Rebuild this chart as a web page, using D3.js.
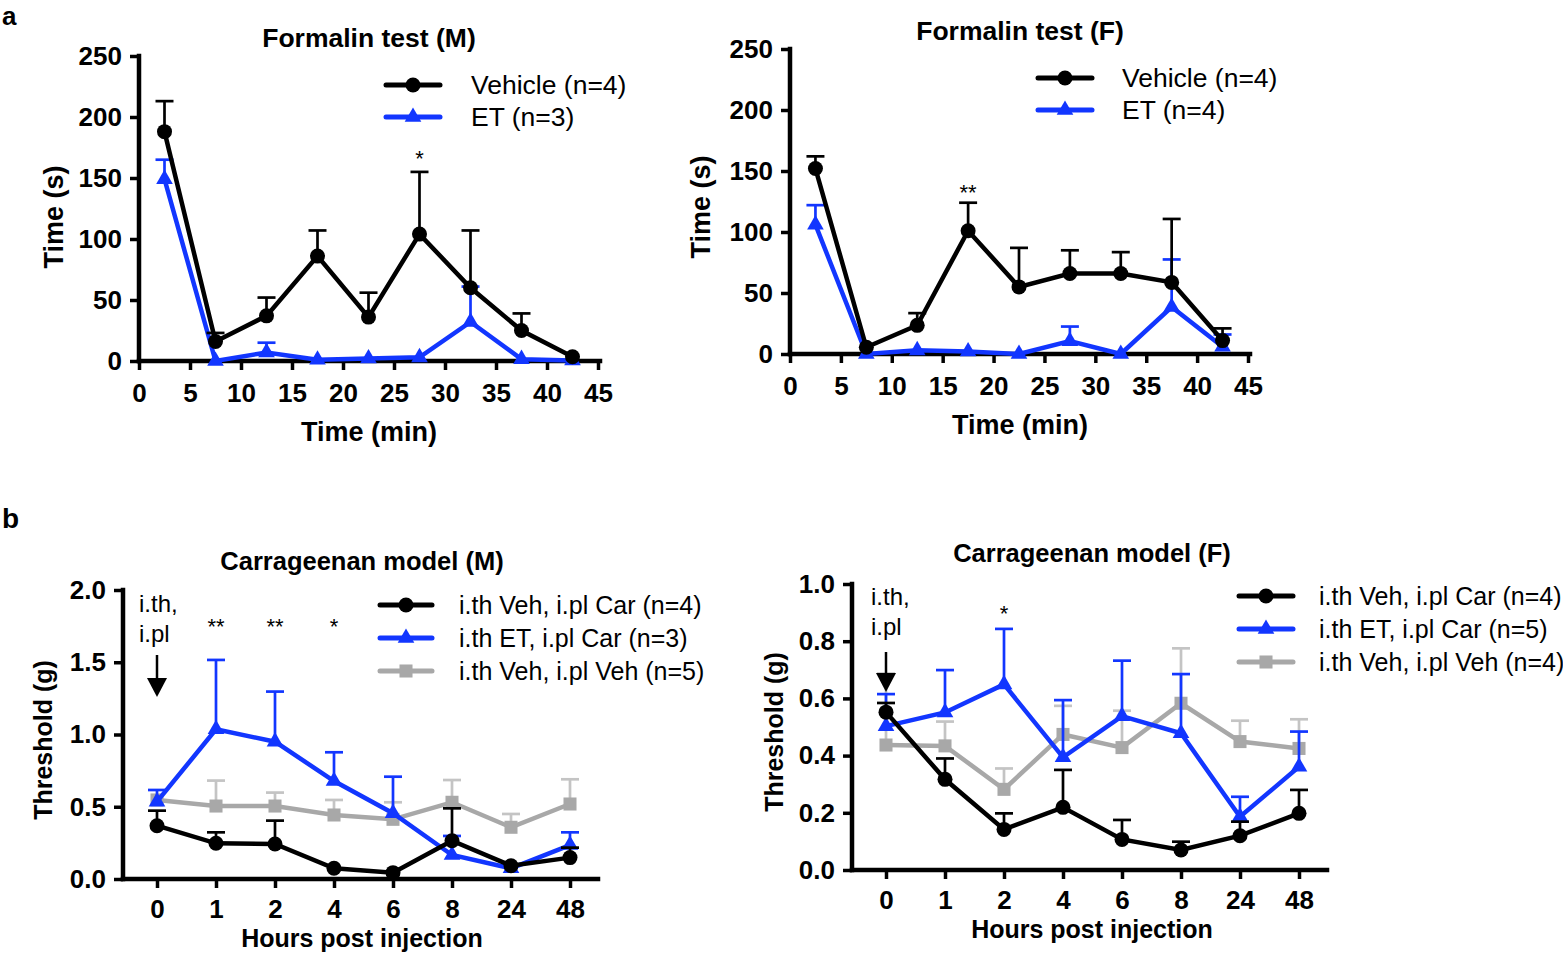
<!DOCTYPE html>
<html>
<head>
<meta charset="utf-8">
<script src="https://cdn.jsdelivr.net/npm/d3@7"></script>
<style>
  body { margin: 0; background: #fff; }
  svg { display: block; font-family: "Liberation Sans", Arial, sans-serif; }
</style>
</head>
<body>
<script>
// ---------------- DATA ----------------
const timeMin = [2.5, 7.5, 12.5, 17.5, 22.5, 27.5, 32.5, 37.5, 42.5];
const formalinTicksX = [0, 5, 10, 15, 20, 25, 30, 35, 40, 45];
const formalinTicksY = [0, 50, 100, 150, 200, 250];

const formM_vehicle = [188, 16, 37, 86, 36, 104, 60, 25, 3.5];
const formM_vehicleSem = [25, 7, 15, 21, 20, 51, 47, 14, 0];
const formM_et = [149, 0, 7, 1, 2, 3, 32, 1.5, 0.5];
const formM_etSem = [16, 0, 8, 0, 0, 0, 29, 0, 0];

const formF_vehicle = [152, 5.5, 23.5, 101, 55, 66, 66, 58.7, 11];
const formF_vehicleSem = [10, 0, 10, 23, 32, 19, 17.5, 52, 10];
const formF_et = [106, 0, 3, 2, 0, 10.5, 0, 38.5, 6];
const formF_etSem = [16, 0, 0, 0, 0, 12, 0, 39, 10];

const hours = ["0", "1", "2", "4", "6", "8", "24", "48"];
const carM_ticksY = [0, 0.5, 1.0, 1.5, 2.0];
const carF_ticksY = [0, 0.2, 0.4, 0.6, 0.8, 1.0];

const carM_vehCar = [0.369, 0.247, 0.242, 0.074, 0.044, 0.265, 0.092, 0.148];
const carM_vehCarSem = [0.104, 0.076, 0.162, 0, 0, 0.224, 0, 0.069];
const carM_etCar = [0.535, 1.036, 0.950, 0.678, 0.455, 0.166, 0.074, 0.235];
const carM_etCarSem = [0.081, 0.48, 0.347, 0.199, 0.253, 0.132, 0, 0.088];
const carM_vehVeh = [0.547, 0.505, 0.505, 0.443, 0.413, 0.531, 0.358, 0.519];
const carM_vehVehSem = [0, 0.176, 0.093, 0.104, 0.118, 0.154, 0.092, 0.171];

const carF_vehCar = [0.552, 0.317, 0.142, 0.219, 0.107, 0.070, 0.120, 0.198];
const carF_vehCarSem = [0.032, 0.073, 0.056, 0.131, 0.068, 0.029, 0.049, 0.082];
const carF_etCar = [0.503, 0.551, 0.649, 0.394, 0.538, 0.478, 0.186, 0.361];
const carF_etCarSem = [0.112, 0.148, 0.194, 0.2, 0.194, 0.207, 0.07, 0.123];
const carF_vehVeh = [0.437, 0.434, 0.282, 0.474, 0.428, 0.583, 0.449, 0.425];
const carF_vehVehSem = [0.25, 0.085, 0.073, 0.1, 0.129, 0.192, 0.073, 0.102];

// ---------------- STYLE ----------------
const BLACK = "#000000", BLUE = "#1236ff", GRAY = "#a8a8a8", GRAY_ERR = "#c4c4c4";
const FONT = '"Liberation Sans", Arial, sans-serif';

const svg = d3.select("body").append("svg").attr("width", 1563).attr("height", 954);

function marker(g, type, color, x, y) {
  if (type === "circle") {
    g.append("circle").attr("cx", x).attr("cy", y).attr("r", 7.5).attr("fill", color);
  } else if (type === "triangle") {
    g.append("path").attr("d", d3.symbol(d3.symbolTriangle, 120)())
      .attr("transform", `translate(${x},${y})`).attr("fill", color);
  } else {
    g.append("path").attr("d", d3.symbol(d3.symbolSquare, 170)())
      .attr("transform", `translate(${x},${y})`).attr("fill", color);
  }
}

function drawSeries(g, xs, vals, sems, xScale, yScale, s) {
  const pts = vals.map((v, i) => ({x: xScale(xs[i]), y: yScale(v), top: yScale(v + sems[i]), sem: sems[i]}));
  const eg = g.append("g");
  pts.forEach(p => {
    if (p.sem > 0) {
      eg.append("line").attr("x1", p.x).attr("x2", p.x).attr("y1", p.y).attr("y2", p.top)
        .attr("stroke", s.errColor).attr("stroke-width", 2.7);
      eg.append("line").attr("x1", p.x - 9).attr("x2", p.x + 9).attr("y1", p.top).attr("y2", p.top)
        .attr("stroke", s.errColor).attr("stroke-width", 2.7);
    }
  });
  g.append("path").datum(pts)
    .attr("d", d3.line().x(d => d.x).y(d => d.y))
    .attr("fill", "none").attr("stroke", s.color).attr("stroke-width", 4.5)
    .attr("stroke-linejoin", "miter");
  pts.forEach(p => marker(g, s.marker, s.color, p.x, p.y));
}

function axes(g, xScale, yScale, xTicks, yTicks, xEnd, yFmt, xPad, ax) {
  const x0 = yScale.range()[0];
  const xA = d3.axisBottom(xScale).tickValues(xTicks).tickSize(9).tickPadding(xPad).tickSizeOuter(0);
  const yA = d3.axisLeft(yScale).tickValues(yTicks).tickSize(9).tickPadding(8).tickSizeOuter(0).tickFormat(yFmt);
  const gx = g.append("g").attr("transform", `translate(0,${x0})`).call(xA);
  const gy = g.append("g").attr("transform", `translate(${ax},0)`).call(yA);
  [gx, gy].forEach(a => {
    a.select(".domain").remove();
    a.selectAll(".tick line").attr("stroke", "#000").attr("stroke-width", 3.5);
    a.selectAll(".tick text").attr("fill", "#000").attr("font-size", 26).attr("font-weight", "bold")
      .attr("font-family", FONT);
  });
  g.append("line").attr("x1", ax).attr("x2", ax).attr("y1", yScale.range()[1]).attr("y2", x0)
    .attr("stroke", "#000").attr("stroke-width", 4.5).attr("stroke-linecap", "square");
  g.append("line").attr("x1", ax).attr("x2", xEnd).attr("y1", x0).attr("y2", x0)
    .attr("stroke", "#000").attr("stroke-width", 4.5).attr("stroke-linecap", "square");
}

function text(g, t, x, y, opts = {}) {
  const el = g.append("text").attr("x", x).attr("y", y).text(t)
    .attr("font-family", FONT).attr("font-size", opts.size || 25)
    .attr("font-weight", opts.bold ? "bold" : "normal")
    .attr("text-anchor", opts.anchor || "start").attr("fill", "#000");
  if (opts.rotate) el.attr("transform", `rotate(-90,${x},${y})`);
  return el;
}

function legend(g, items, lx0, lx1, tx, ys, size) {
  items.forEach((it, i) => {
    const y = ys[i];
    g.append("line").attr("x1", lx0).attr("x2", lx1).attr("y1", y).attr("y2", y)
      .attr("stroke", it.color).attr("stroke-width", 5).attr("stroke-linecap", "round");
    marker(g, it.marker, it.color, (lx0 + lx1) / 2, y);
    text(g, it.label, tx, y + 9, {size: size});
  });
}

function arrow(g, x, yTop, yTip) {
  g.append("line").attr("x1", x).attr("x2", x).attr("y1", yTop).attr("y2", yTip - 16)
    .attr("stroke", "#000").attr("stroke-width", 2.5);
  g.append("path").attr("d", `M${x - 10},${yTip - 19} L${x + 10},${yTip - 19} L${x},${yTip} Z`).attr("fill", "#000");
}

// ---------------- PANEL LETTERS ----------------
text(svg, "a", 2, 25, {size: 26, bold: true});
text(svg, "b", 2, 528, {size: 28, bold: true});

// ---------------- FORMALIN PANELS ----------------
function formalinPanel(cfg) {
  const g = svg.append("g");
  const x = d3.scaleLinear().domain([0, 45]).range([cfg.ax, cfg.x45]);
  const y = d3.scaleLinear().domain([0, 250]).range([cfg.y0, cfg.y250]);
  axes(g, x, y, formalinTicksX, formalinTicksY, cfg.xEnd, d3.format("d"), 14, cfg.ax);
  drawSeries(g, timeMin, cfg.et, cfg.etSem, x, y, {color: BLUE, errColor: BLUE, marker: "triangle"});
  drawSeries(g, timeMin, cfg.veh, cfg.vehSem, x, y, {color: BLACK, errColor: BLACK, marker: "circle"});
  text(g, cfg.title, cfg.titleX, cfg.titleY, {bold: true, anchor: "middle", size: 26.5});
  text(g, "Time (min)", cfg.titleX, cfg.xTitleY, {bold: true, anchor: "middle", size: 27});
  text(g, "Time (s)", cfg.yTitleX, cfg.yTitleY, {bold: true, anchor: "middle", size: 27, rotate: true});
  legend(g, [
    {label: "Vehicle (n=4)", color: BLACK, marker: "circle"},
    {label: cfg.etLabel, color: BLUE, marker: "triangle"}
  ], cfg.lx0, cfg.lx1, cfg.tx, cfg.ly, 26.5);
  cfg.stars.forEach(s => text(g, s.t, x(s.x), s.y, {anchor: "middle", size: 22}));
}

formalinPanel({
  ax: 139, x45: 598, xEnd: 600, y0: 361, y250: 56,
  veh: formM_vehicle, vehSem: formM_vehicleSem, et: formM_et, etSem: formM_etSem,
  title: "Formalin test (M)", titleX: 369, titleY: 47, xTitleY: 441, yTitleX: 63, yTitleY: 217,
  etLabel: "ET (n=3)", lx0: 386, lx1: 440, tx: 471, ly: [85, 117],
  stars: [{t: "*", x: 27.5, y: 166}]
});

formalinPanel({
  ax: 790, x45: 1248, xEnd: 1250, y0: 354, y250: 49,
  veh: formF_vehicle, vehSem: formF_vehicleSem, et: formF_et, etSem: formF_etSem,
  title: "Formalin test (F)", titleX: 1020, titleY: 40, xTitleY: 434, yTitleX: 710, yTitleY: 207,
  etLabel: "ET (n=4)", lx0: 1038, lx1: 1092, tx: 1122, ly: [78, 110],
  stars: [{t: "**", x: 17.5, y: 200}]
});

// ---------------- CARRAGEENAN PANELS ----------------
function carPanel(cfg) {
  const g = svg.append("g");
  const x = d3.scalePoint().domain(hours).range([cfg.c0, cfg.c48]);
  const y = d3.scaleLinear().domain([0, cfg.yMax]).range([cfg.y0, cfg.yTop]);
  axes(g, x, y, hours, cfg.yTicks, cfg.xEnd, d3.format(".1f"), 12, cfg.ax);
  drawSeries(g, hours, cfg.vv, cfg.vvSem, x, y, {color: GRAY, errColor: GRAY_ERR, marker: "square"});
  drawSeries(g, hours, cfg.ec, cfg.ecSem, x, y, {color: BLUE, errColor: BLUE, marker: "triangle"});
  drawSeries(g, hours, cfg.vc, cfg.vcSem, x, y, {color: BLACK, errColor: BLACK, marker: "circle"});
  text(g, cfg.title, cfg.titleX, cfg.titleY, {bold: true, anchor: "middle", size: 25.5});
  text(g, "Hours post injection", cfg.titleX, cfg.xTitleY, {bold: true, anchor: "middle", size: 25});
  text(g, "Threshold (g)", cfg.yTitleX, cfg.yTitleY, {bold: true, anchor: "middle", size: 25, rotate: true});
  legend(g, [
    {label: "i.th Veh, i.pl Car (n=4)", color: BLACK, marker: "circle"},
    {label: cfg.etLabel, color: BLUE, marker: "triangle"},
    {label: cfg.vvLabel, color: GRAY, marker: "square"}
  ], cfg.lx0, cfg.lx1, cfg.tx, cfg.ly, 25);
  text(g, "i.th,", cfg.annX, cfg.annY, {size: 24});
  text(g, "i.pl", cfg.annX, cfg.annY + 30, {size: 24});
  arrow(g, x("0"), cfg.arrTop, cfg.arrTip);
  cfg.stars.forEach(s => text(g, s.t, x(s.x), s.y, {anchor: "middle", size: 22}));
}

carPanel({
  ax: 123, c0: 157, c48: 570, xEnd: 598, y0: 879, yTop: 590, yMax: 2.0, yTicks: carM_ticksY,
  vc: carM_vehCar, vcSem: carM_vehCarSem, ec: carM_etCar, ecSem: carM_etCarSem, vv: carM_vehVeh, vvSem: carM_vehVehSem,
  title: "Carrageenan model (M)", titleX: 362, titleY: 570, xTitleY: 947, yTitleX: 52, yTitleY: 740,
  etLabel: "i.th ET, i.pl Car (n=3)", vvLabel: "i.th Veh, i.pl Veh (n=5)",
  lx0: 380, lx1: 432, tx: 459, ly: [605, 638, 671],
  annX: 139, annY: 612, arrTop: 655, arrTip: 697,
  stars: [{t: "**", x: "1", y: 634}, {t: "**", x: "2", y: 634}, {t: "*", x: "4", y: 634}]
});

carPanel({
  ax: 852, c0: 886, c48: 1299, xEnd: 1327, y0: 870, yTop: 584, yMax: 1.0, yTicks: carF_ticksY,
  vc: carF_vehCar, vcSem: carF_vehCarSem, ec: carF_etCar, ecSem: carF_etCarSem, vv: carF_vehVeh, vvSem: carF_vehVehSem,
  title: "Carrageenan model (F)", titleX: 1092, titleY: 562, xTitleY: 938, yTitleX: 783, yTitleY: 732,
  etLabel: "i.th ET, i.pl Car (n=5)", vvLabel: "i.th Veh, i.pl Veh (n=4)",
  lx0: 1239, lx1: 1293, tx: 1319, ly: [596, 629, 662],
  annX: 871, annY: 605, arrTop: 652, arrTip: 692,
  stars: [{t: "*", x: "2", y: 621}]
});
</script>
</body>
</html>
